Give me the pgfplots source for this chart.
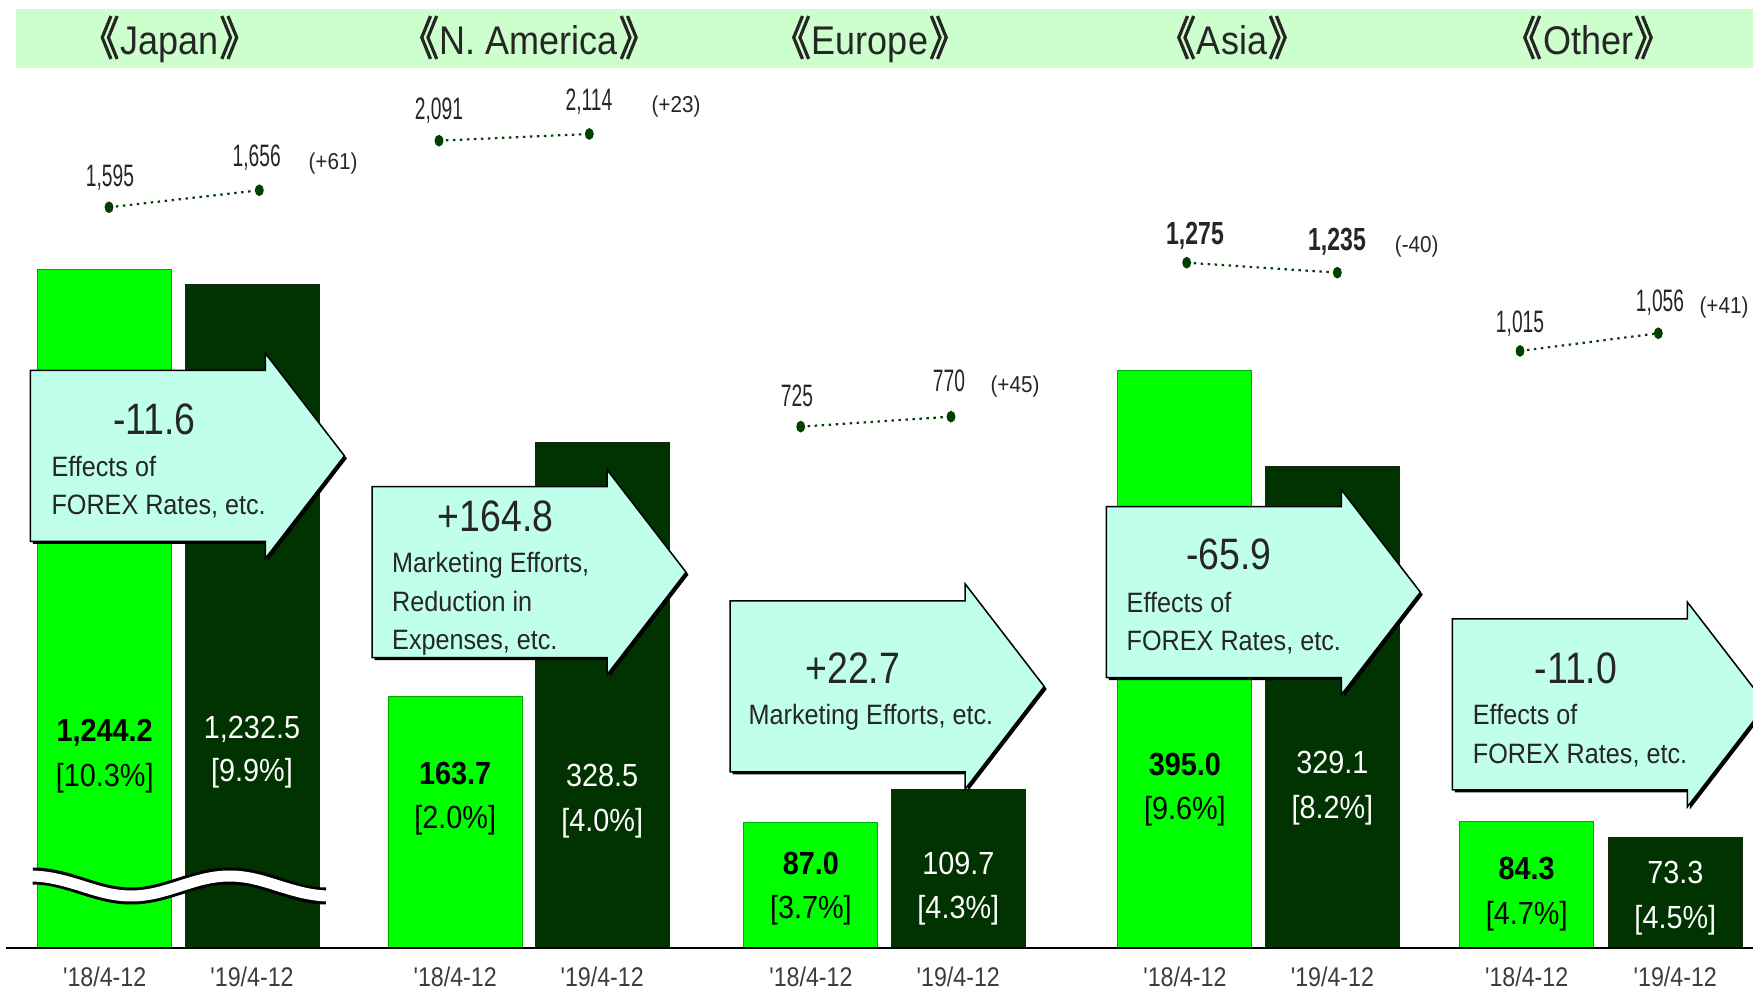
\documentclass[border=0pt]{standalone}
\usepackage{fontspec}
\usepackage{pgfplots}
\pgfplotsset{compat=1.18}
\setmainfont{Liberation Sans}
\newfontfamily\fA{Liberation Sans}[FakeStretch=0.9]
\newfontfamily\fN{Liberation Sans}[FakeStretch=0.85]
\newfontfamily\fR{Liberation Sans}[FakeStretch=0.62]
\newfontfamily\fRB{Liberation Sans}[FakeStretch=0.72]
\newfontfamily\fT{Liberation Sans}[FakeStretch=0.86]
\newfontfamily\cjk{Noto Sans CJK JP}[FakeStretch=0.85, FakeBold=2]
\definecolor{hdr}{RGB}{204,255,204}
\definecolor{gbar}{RGB}{0,255,0}
\definecolor{gbarline}{RGB}{0,170,0}
\definecolor{dbar}{RGB}{0,51,0}
\definecolor{dbarline}{RGB}{20,40,20}
\definecolor{arr}{RGB}{192,255,236}
\definecolor{rev}{RGB}{0,64,0}
\definecolor{txt}{RGB}{38,38,38}
\definecolor{tick}{RGB}{60,60,60}
\pgfplotsset{
  regaxis/.style={at={(0pt,44pt)}, anchor=south west, width=1753pt, height=888pt,
    scale only axis, xmin=0, xmax=1753, hide axis},
  gb/.style={ybar, bar width=134pt, bar shift=0pt, fill=gbar, draw=gbarline, line width=1pt},
  db/.style={ybar, bar width=134pt, bar shift=0pt, fill=dbar, draw=dbarline, line width=1pt},
  revline/.style={color=rev, line width=2.2pt, dash pattern=on 2.4pt off 4.6pt,
    mark=*, mark size=4.6pt, mark options={solid, fill=rev, xscale=0.72}},
}
\tikzset{px/.style={x=1pt,y=-1pt,shift={(0pt,992pt)}}}
\newcommand{\callout}[2]{%
  \fill[black] ({#1+2.5},{#2+2.5}) -- ({#1+237.5},{#2+2.5}) -- ({#1+237.5},{#2-14.5}) -- ({#1+316.5},{#2+88}) -- ({#1+237.5},{#2+190.5}) -- ({#1+237.5},{#2+173.5}) -- ({#1+2.5},{#2+173.5}) -- cycle;
  \filldraw[fill=arr, draw=black, line width=1.5pt, line join=miter] (#1,#2) -- ({#1+235},#2) -- ({#1+235},{#2-17}) -- ({#1+314},{#2+85.5}) -- ({#1+235},{#2+188}) -- ({#1+235},{#2+171}) -- (#1,{#2+171}) -- cycle;}
\newcommand{\hdrtxt}[2]{\node[anchor=base, text=txt, inner sep=0pt] at (#1,55) {\fontsize{40pt}{48pt}\selectfont{\fontsize{46pt}{48pt}\selectfont\cjk 《}\kern1pt\fA #2\kern1pt{\fontsize{46pt}{48pt}\selectfont\cjk 》}};}
\newcommand{\tk}[2]{\node[anchor=base, text=tick, inner sep=0pt] at (#1,987) {\fontsize{27pt}{32pt}\selectfont\fT #2};}
\newcommand{\bl}[5]{% x, y1, y2, color, text
  \node[anchor=base, text=#4, inner sep=0pt] at (#1,#2) {\fontsize{32pt}{38pt}\selectfont\fA #5};}
\newcommand{\rv}[3]{\node[anchor=base, text=txt, inner sep=0pt] at (#1,#2) {\fontsize{31pt}{36pt}\selectfont\fR #3};}
\newcommand{\rvb}[3]{\node[anchor=base, text=txt, inner sep=0pt] at (#1,#2) {\fontsize{32pt}{38pt}\selectfont\fRB\bfseries #3};}
\newcommand{\df}[3]{\node[anchor=base, text=txt, inner sep=0pt] at (#1,#2) {\fontsize{23pt}{28pt}\selectfont\fA #3};}
\newcommand{\an}[3]{\node[anchor=base, text=txt, inner sep=0pt] at (#1,#2) {\fontsize{44pt}{52pt}\selectfont\fN #3};}
\newcommand{\at}[3]{\node[anchor=base west, text=txt, inner sep=0pt] at (#1,#2) {\fontsize{28pt}{34pt}\selectfont\fA #3};}
\begin{document}
\begin{tikzpicture}
\useasboundingbox (0pt,0pt) rectangle (1753pt,992pt);
\clip (0pt,0pt) rectangle (1753pt,992pt);
\fill[white] (0pt,0pt) rectangle (1753pt,992pt);
\begin{scope}[px]
  \fill[hdr] (15.6,9.3) rectangle (1753,67.7);
  \hdrtxt{169.5}{Japan}
  \hdrtxt{529}{N. America}
  \hdrtxt{870}{Europe}
  \hdrtxt{1232}{Asia}
  \hdrtxt{1588}{Other}
\end{scope}
% ---------- operating income bars (one axis per region) ----------
% Japan (broken axis)
\begin{axis}[regaxis, ymin=735.25, ymax=1401.25]
  \addplot[gb] coordinates {(104.7,1244.2)};
  \addplot[db] coordinates {(252,1232.5)};
\end{axis}
% N. America
\begin{axis}[regaxis, ymin=0, ymax=576.9]
  \addplot[gb] coordinates {(455.2,163.7)};
  \addplot[db] coordinates {(602.2,328.5)};
\end{axis}
% Europe
\begin{axis}[regaxis, ymin=0, ymax=613.9]
  \addplot[gb] coordinates {(810.9,87.0)};
  \addplot[db] coordinates {(958.3,109.7)};
\end{axis}
% Asia
\begin{axis}[regaxis, ymin=0, ymax=607.5]
  \addplot[gb] coordinates {(1184.9,395.0)};
  \addplot[db] coordinates {(1332.4,329.1)};
\end{axis}
% Other
\begin{axis}[regaxis, ymin=0, ymax=591.1]
  \addplot[gb] coordinates {(1526.7,84.3)};
  \addplot[db] coordinates {(1675.3,73.3)};
\end{axis}
\begin{scope}[px]
  % break mark on Japan bars
  \draw[black, line width=17pt] (32.7,876) cos (81.9,886) sin (131,896) cos (180.3,886) sin (229.6,876) cos (278.9,886) sin (326,896);
  \draw[white, line width=11pt] (30,876) cos (81.9,886) sin (131,896) cos (180.3,886) sin (229.6,876) cos (278.9,886) sin (330,896);
  \draw[black, line width=2.5pt] (5.6,948) -- (1753,948);
\end{scope}
% ---------- revenue (dotted lines, one axis per region) ----------
\begin{axis}[regaxis, ymin=-1062.7, ymax=2123.5]
  \addplot[revline] coordinates {(109,1595) (259.3,1656)};
\end{axis}
\begin{axis}[regaxis, ymin=-680.4, ymax=2368]
  \addplot[revline] coordinates {(439,2091) (589.3,2114)};
\end{axis}
\begin{axis}[regaxis, ymin=-1621, ymax=2375]
  \addplot[revline] coordinates {(800.7,725) (951,770)};
\end{axis}
\begin{axis}[regaxis, ymin=-1466.2, ymax=2085.8]
  \addplot[revline] coordinates {(1186.7,1275) (1337.3,1235)};
\end{axis}
\begin{axis}[regaxis, ymin=-368, ymax=1689]
  \addplot[revline] coordinates {(1520,1015) (1658.3,1056)};
\end{axis}
\begin{scope}[px]
  % bar labels
  \bl{104.7}{741.7}{}{black}{\bfseries 1,244.2}
  \bl{104.7}{786.7}{}{black}{[10.3\%]}
  \bl{252}{738.3}{}{white}{1,232.5}
  \bl{252}{781.7}{}{white}{[9.9\%]}
  \bl{455.2}{785}{}{black}{\bfseries 163.7}
  \bl{455.2}{828.3}{}{black}{[2.0\%]}
  \bl{602.2}{786.7}{}{white}{328.5}
  \bl{602.2}{831.7}{}{white}{[4.0\%]}
  \bl{810.9}{875}{}{black}{\bfseries 87.0}
  \bl{810.9}{918.3}{}{black}{[3.7\%]}
  \bl{958.3}{875}{}{white}{109.7}
  \bl{958.3}{918.3}{}{white}{[4.3\%]}
  \bl{1184.9}{776}{}{black}{\bfseries 395.0}
  \bl{1184.9}{820}{}{black}{[9.6\%]}
  \bl{1332.4}{774}{}{white}{329.1}
  \bl{1332.4}{818.3}{}{white}{[8.2\%]}
  \bl{1526.7}{880}{}{black}{\bfseries 84.3}
  \bl{1526.7}{925}{}{black}{[4.7\%]}
  \bl{1675.3}{883.3}{}{white}{73.3}
  \bl{1675.3}{928.3}{}{white}{[4.5\%]}
  % tick labels
  \tk{104.7}{'18/4-12} \tk{252}{'19/4-12}
  \tk{455.2}{'18/4-12} \tk{602.2}{'19/4-12}
  \tk{810.9}{'18/4-12} \tk{958.3}{'19/4-12}
  \tk{1184.9}{'18/4-12} \tk{1332.4}{'19/4-12}
  \tk{1526.7}{'18/4-12} \tk{1675.3}{'19/4-12}
  % revenue labels
  \rv{110}{186.7}{1,595} \rv{256.7}{166.7}{1,656} \df{333}{170}{(+61)}
  \rv{439}{119.3}{2,091} \rv{589}{110.7}{2,114} \df{676}{113}{(+23)}
  \rv{797}{406.7}{725} \rv{949}{391.7}{770} \df{1015}{393}{(+45)}
  \rvb{1195}{245}{1,275} \rvb{1337}{250.7}{1,235} \df{1416.7}{252.7}{(-40)}
  \rv{1520}{332.7}{1,015} \rv{1660}{311.7}{1,056} \df{1724}{314}{(+41)}
  % callout arrows
  \callout{30.4}{370.4}
  \an{154.4}{435}{-11.6}
  \at{51.3}{476.7}{Effects of}
  \at{51.3}{515}{FOREX Rates, etc.}
  \callout{372}{486.7}
  \an{495.5}{531.7}{+164.8}
  \at{392}{572.7}{Marketing Efforts,}
  \at{392}{611.3}{Reduction in}
  \at{392}{649.5}{Expenses, etc.}
  \callout{730.2}{601}
  \an{852.8}{683.3}{+22.7}
  \at{748.4}{725}{Marketing Efforts, etc.}
  \callout{1106.3}{506.7}
  \an{1228.9}{570}{-65.9}
  \at{1126.5}{612.7}{Effects of}
  \at{1126.5}{650.7}{FOREX Rates, etc.}
  \callout{1452.3}{619}
  \an{1575.8}{683.3}{-11.0}
  \at{1472.7}{725}{Effects of}
  \at{1472.7}{763.3}{FOREX Rates, etc.}
\end{scope}
\end{tikzpicture}
\end{document}
